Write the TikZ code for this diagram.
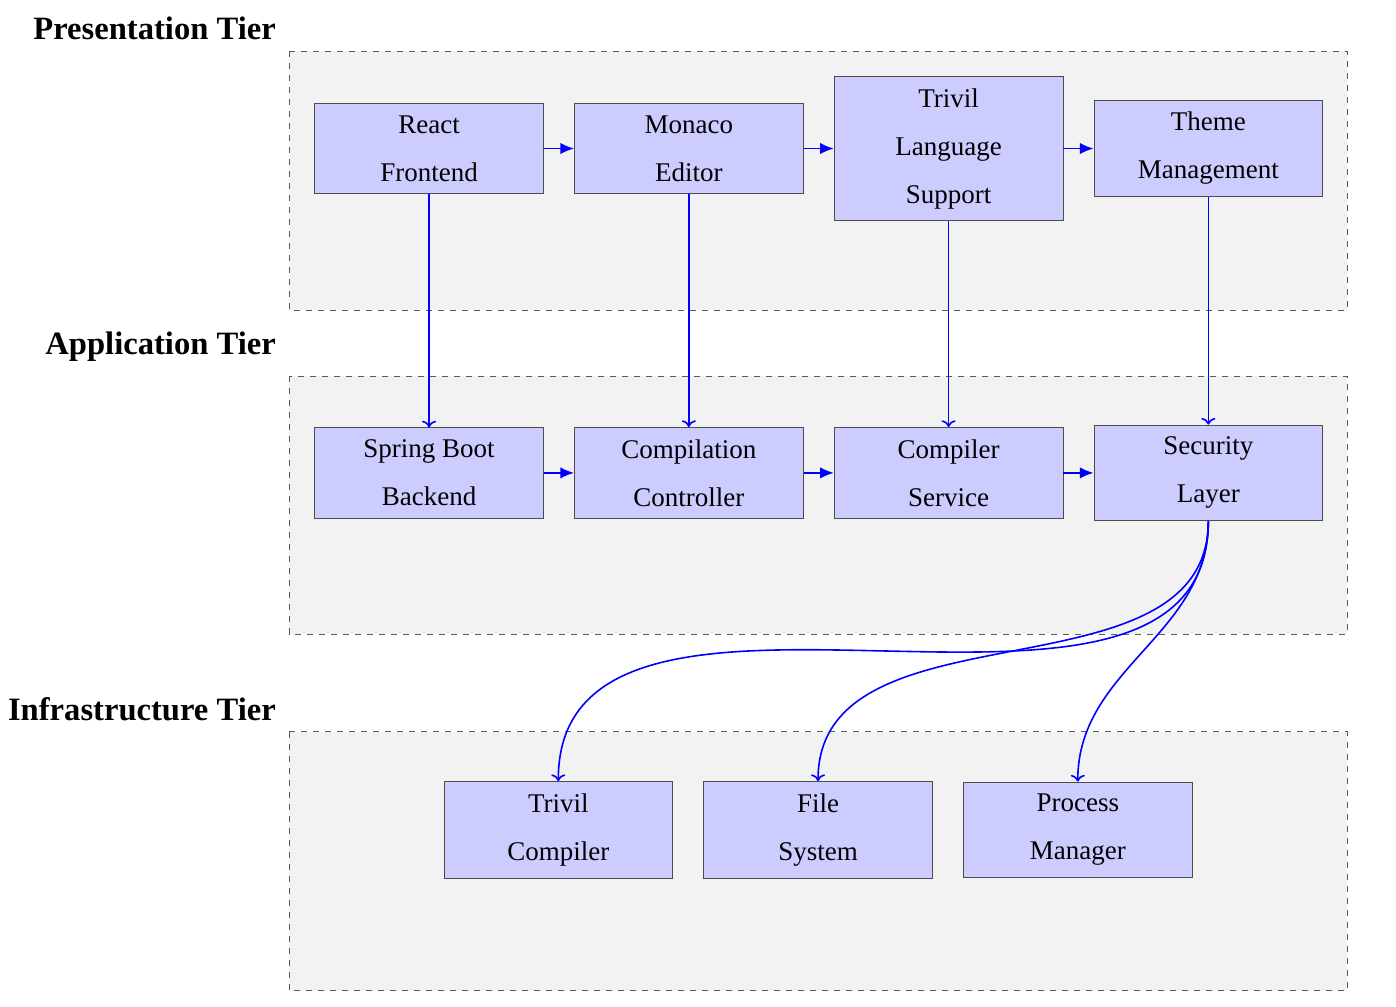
\documentclass[tikz,border=0pt]{standalone}
\usepackage{fontspec}
\setmainfont{Liberation Serif}
\usetikzlibrary{positioning,arrows.meta}

\begin{document}
\begin{tikzpicture}[
  node distance=5.3mm,
  tier/.style={draw=black!65, dashed, fill=gray!10},
  tierlabel/.style={anchor=east, font=\fontsize{16.3}{19}\selectfont\bfseries},
  comp/.style={draw=black!70, fill=blue!20, minimum width=4.02cm,
    inner ysep=6pt, align=center, font=\fontsize{13.5}{24}\selectfont},
  flow/.style={blue, thick, -{Latex[length=2.4mm,width=2mm]}},
  link/.style={blue, thick, ->}]
\useasboundingbox (0,0) rectangle (24.53,-17.68);

% tiers
\draw[tier] (5.08,-0.90) rectangle (23.67,-5.45);
\draw[tier] (5.08,-6.61) rectangle (23.67,-11.14);
\draw[tier] (5.08,-12.86) rectangle (23.67,-17.41);
\node[tierlabel] (lpres) at (4.97,-0.49) {Presentation Tier};
\node[tierlabel] (lapp) at (4.97,-6.10) {Application Tier};
\node[tierlabel] (linfra) at (4.97,-12.46) {Infrastructure Tier};

% presentation
\node[comp] (react) at (7.54,-2.61) {React\\Frontend};
\node[comp, right=of react] (monaco) {Monaco\\Editor};
\node[comp, right=of monaco] (trivil) {Trivil\\Language\\Support};
\node[comp, right=of trivil] (theme) {Theme\\Management};

% application
\node[comp] (spring) at (7.54,-8.31) {Spring Boot\\Backend};
\node[comp, right=of spring] (compctrl) {Compilation\\Controller};
\node[comp, right=of compctrl] (compsvc) {Compiler\\Service};
\node[comp, right=of compsvc] (security) {Security\\Layer};

% infrastructure
\node[comp] (compiler) at (9.81,-14.58) {Trivil\\Compiler};
\node[comp, right=of compiler] (filesys) {File\\System};
\node[comp, right=of filesys] (procmgr) {Process\\Manager};

\draw[flow] (react) -- (monaco);
\draw[flow] (monaco) -- (trivil);
\draw[flow] (trivil) -- (theme);
\draw[flow] (spring) -- (compctrl);
\draw[flow] (compctrl) -- (compsvc);
\draw[flow] (compsvc) -- (security);

\draw[link] (react) -- (spring);
\draw[link] (monaco) -- (compctrl);
\draw[link] (trivil) -- (compsvc);
\draw[link] (theme) -- (security);

\draw[link] (security.south) to[out=-90, in=90] (compiler.north);
\draw[link] (security.south) to[out=-90, in=90] (filesys.north);
\draw[link] (security.south) to[out=-90, in=90] (procmgr.north);
\end{tikzpicture}
\end{document}
